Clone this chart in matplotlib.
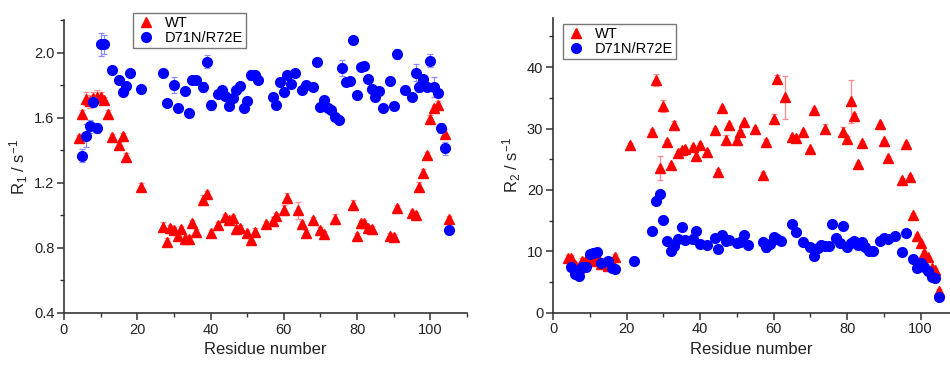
import numpy as np
import matplotlib
matplotlib.use("Agg")
import matplotlib.pyplot as plt
from matplotlib.ticker import MultipleLocator
from matplotlib.lines import Line2D

plt.rcParams['font.family'] = ['Liberation Sans', 'DejaVu Sans']
plt.rcParams['mathtext.fontset'] = 'custom'
plt.rcParams['mathtext.rm'] = 'Liberation Sans'
plt.rcParams['mathtext.it'] = 'Liberation Sans'
plt.rcParams['mathtext.default'] = 'regular'

# ---------------- R1 data ----------------
wt_r1_res = [4, 5, 6, 7, 8, 9, 10, 11, 12, 13, 15, 16, 17, 21, 27, 28, 29, 30, 31, 32, 33, 34, 35, 36,
             38, 39, 40, 42, 44, 45, 46, 47, 48, 50, 51, 52, 55, 57, 58, 60, 61, 64, 65, 66, 68, 70, 71,
             74, 79, 80, 81, 82, 83, 84, 89, 90, 91, 95, 96, 97, 98, 99, 100, 101, 102, 104, 105]
wt_r1_val = [1.475, 1.62, 1.715, 1.70, 1.72, 1.73, 1.725, 1.71, 1.62, 1.48, 1.43, 1.485, 1.36, 1.177,
             0.927, 0.839, 0.921, 0.907, 0.87, 0.917, 0.853, 0.857, 0.952, 0.895, 1.095, 1.129, 0.89,
             0.938, 0.987, 0.972, 0.982, 0.919, 0.92, 0.89, 0.849, 0.90, 0.947, 0.968, 0.993, 1.034,
             1.106, 1.03, 0.946, 0.89, 0.972, 0.91, 0.886, 0.977, 1.065, 0.874, 0.952, 0.952, 0.921,
             0.915, 0.874, 0.865, 1.044, 1.013, 1.003, 1.173, 1.263, 1.372, 1.594, 1.66, 1.68, 1.50, 0.977]
wt_r1_err = [0.02, 0.03, 0.04, 0.04, 0.04, 0.04, 0.03, 0.02, 0.03, 0.02, 0.02, 0.02, 0.02, 0.02,
             0.03, 0.02, 0.02, 0.02, 0.02, 0.02, 0.02, 0.02, 0.02, 0.02, 0.03, 0.02, 0.02,
             0.02, 0.02, 0.02, 0.02, 0.02, 0.02, 0.02, 0.02, 0.02, 0.02, 0.02, 0.02, 0.03,
             0.03, 0.05, 0.02, 0.02, 0.02, 0.02, 0.02, 0.03, 0.03, 0.02, 0.02, 0.02, 0.02,
             0.02, 0.02, 0.02, 0.02, 0.02, 0.02, 0.03, 0.02, 0.02, 0.02, 0.02, 0.02, 0.03, 0.02]

mut_r1_res = [5, 6, 7, 8, 9, 10, 11, 13, 15, 16, 17, 18, 21, 27, 28, 30, 31, 33, 34, 35, 36, 38, 39, 40,
              42, 43, 44, 45, 46, 47, 48, 49, 50, 51, 52, 53, 57, 58, 59, 60, 61, 62, 63, 65, 66, 68,
              69, 70, 71, 72, 73, 74, 75, 76, 77, 78, 79, 80, 81, 82, 83, 84, 85, 86, 87, 89, 90, 91,
              93, 95, 96, 97, 98, 99, 100, 101, 102, 103, 104, 105]
mut_r1_val = [1.366, 1.49, 1.547, 1.697, 1.537, 2.05, 2.05, 1.895, 1.83, 1.76, 1.795, 1.875, 1.776,
              1.877, 1.69, 1.80, 1.657, 1.766, 1.63, 1.83, 1.83, 1.79, 1.945, 1.678, 1.745, 1.77,
              1.735, 1.672, 1.723, 1.772, 1.795, 1.66, 1.703, 1.86, 1.865, 1.83, 1.725, 1.677, 1.817,
              1.758, 1.865, 1.807, 1.877, 1.772, 1.80, 1.789, 1.942, 1.668, 1.706, 1.66, 1.65, 1.604,
              1.583, 1.906, 1.817, 1.824, 2.077, 1.739, 1.91, 1.92, 1.837, 1.776, 1.73, 1.766, 1.657,
              1.824, 1.672, 1.99, 1.772, 1.727, 1.877, 1.79, 1.836, 1.79, 1.95, 1.79, 1.752, 1.537,
              1.413, 0.911]
mut_r1_err = [0.04, 0.07, 0.04, 0.03, 0.03, 0.07, 0.06, 0.01, 0.01, 0.01, 0.01, 0.01, 0.02,
              0.02, 0.01, 0.05, 0.01, 0.02, 0.01, 0.01, 0.02, 0.03, 0.04, 0.03, 0.01, 0.01,
              0.01, 0.01, 0.01, 0.02, 0.02, 0.01, 0.01, 0.03, 0.02, 0.02, 0.01, 0.01, 0.02,
              0.01, 0.01, 0.01, 0.01, 0.01, 0.02, 0.02, 0.02, 0.01, 0.01, 0.01, 0.01, 0.01,
              0.01, 0.05, 0.02, 0.02, 0.02, 0.01, 0.02, 0.02, 0.01, 0.01, 0.01, 0.01, 0.01,
              0.02, 0.02, 0.03, 0.02, 0.02, 0.05, 0.03, 0.02, 0.02, 0.04, 0.06, 0.02, 0.03,
              0.04, 0.01]

# ---------------- R2 data ----------------
wt_r2_res = [4, 5, 6, 7, 8, 9, 10, 11, 12, 13, 15, 16, 17, 21, 27, 28, 29, 30, 31, 32, 33, 34, 35, 36,
             38, 39, 40, 42, 44, 45, 46, 47, 48, 50, 51, 52, 55, 57, 58, 60, 61, 63, 65, 66, 68, 70,
             71, 74, 79, 80, 81, 82, 83, 84, 89, 90, 91, 95, 96, 97, 98, 99, 100, 101, 102, 103, 104, 105]
wt_r2_val = [8.9, 8.9, 7.8, 7.3, 8.4, 8.6, 8.7, 8.5, 9.2, 7.9, 7.6, 8.2, 9.0, 27.3, 29.5, 37.9, 23.6,
             33.7, 27.85, 24.05, 30.6, 25.96, 26.5, 26.7, 27.0, 25.5, 27.3, 26.2, 29.75, 22.9, 33.3,
             28.1, 30.6, 28.1, 29.4, 31.0, 29.9, 22.4, 27.85, 31.55, 38.1, 35.1, 28.6, 28.5, 29.4,
             26.6, 33.0, 30.0, 29.5, 28.3, 34.4, 32.1, 24.2, 27.6, 30.8, 27.9, 25.25, 21.6, 27.5,
             22.15, 15.9, 12.5, 11.3, 9.8, 9.0, 7.3, 6.95, 3.5]
wt_r2_err = [0.5, 0.5, 0.5, 0.5, 0.5, 0.5, 0.5, 0.5, 0.5, 0.5, 0.5, 0.5, 0.5, 0.3, 0.4, 1.0, 2.0,
             1.0, 0.3, 0.4, 0.6, 0.3, 0.3, 0.3, 0.3, 0.8, 0.3, 0.3, 0.3, 0.5, 0.4,
             0.8, 0.3, 0.3, 0.3, 0.3, 0.3, 0.5, 0.5, 0.8, 0.6, 3.5, 0.3, 0.3, 0.3,
             0.3, 0.3, 0.8, 0.8, 0.5, 3.5, 0.5, 0.4, 0.3, 0.3, 0.3, 0.3, 0.3, 0.3,
             0.3, 0.3, 0.3, 0.3, 0.3, 0.3, 0.3, 0.3, 0.3]

mut_r2_res = [5, 6, 7, 8, 9, 10, 11, 12, 13, 15, 16, 17, 22, 27, 28, 29, 30, 31, 32, 33, 34, 35, 36, 38,
              39, 40, 42, 44, 45, 46, 47, 48, 50, 51, 52, 53, 57, 58, 59, 60, 61, 62, 65, 66, 68, 70,
              71, 72, 73, 74, 75, 76, 77, 78, 79, 80, 81, 82, 83, 84, 85, 86, 87, 89, 90, 91, 93, 95,
              96, 98, 99, 100, 101, 102, 103, 104, 105]
mut_r2_val = [7.5, 6.3, 6.0, 7.5, 7.5, 9.5, 9.67, 9.93, 8.05, 8.47, 7.23, 7.1, 8.47, 13.35, 18.2, 19.3,
              15.1, 11.7, 10.05, 10.9, 11.95, 14.0, 11.8, 11.95, 13.3, 11.2, 11.0, 12.2, 10.4, 12.65,
              11.7, 11.8, 11.4, 11.5, 12.7, 11.0, 11.55, 10.75, 11.2, 12.3, 11.95, 11.7, 14.4, 13.2,
              11.55, 10.75, 9.3, 10.5, 11.0, 10.85, 10.85, 14.4, 12.2, 11.4, 14.2, 10.65, 11.3, 11.7,
              11.0, 11.45, 10.65, 10.05, 10.05, 11.7, 12.2, 11.95, 12.55, 9.94, 12.9, 8.8, 7.2, 8.05,
              7.4, 6.8, 5.76, 5.6, 2.5]
mut_r2_err = [0.4, 0.4, 0.3, 0.3, 0.3, 0.4, 0.3, 0.3, 0.3, 0.3, 0.3, 0.3, 0.3, 0.3, 0.3, 0.3,
              0.3, 0.3, 0.3, 0.3, 0.3, 0.3, 0.3, 0.8, 0.3, 0.3, 0.3, 0.3, 0.3, 0.3,
              0.3, 0.3, 0.3, 0.3, 0.3, 0.3, 0.3, 0.8, 0.3, 0.3, 0.3, 0.3, 0.3, 0.3,
              0.3, 0.3, 0.3, 0.3, 0.3, 0.3, 0.3, 0.3, 0.3, 0.3, 0.3, 0.3, 0.3, 0.3,
              0.3, 0.3, 0.3, 0.3, 0.3, 0.3, 0.3, 0.3, 0.3, 0.3, 0.3, 0.3, 0.3, 0.3,
              0.3, 0.3, 0.3, 0.3, 0.3]

series_labels = ['WT', 'D71N/R72E']

RED = '#ff0000'
BLUE = '#0000ff'
RED_ERR = '#ff8c8c'
BLUE_ERR = '#8c8cff'
AXC = '#333333'

fig = plt.figure(figsize=(9.5, 3.65), dpi=100)
ax1 = fig.add_axes([64/950, 1-313/365, (467-64)/950, (313-20)/365])
ax2 = fig.add_axes([553/950, 1-312.7/365, (950-553)/950, (312.7-18)/365])


def draw(ax, wr, wv, we, mr, mv, me):
    ax.errorbar(wr, wv, yerr=we, fmt='^', color=RED, ms=7.5, mec=RED, ecolor=RED_ERR,
                elinewidth=0.9, capsize=2.5, capthick=0.9, zorder=3)
    ax.errorbar(mr, mv, yerr=me, fmt='o', color=BLUE, ms=7, mec=BLUE, ecolor=BLUE_ERR,
                elinewidth=0.9, capsize=2.5, capthick=0.9, zorder=4)
    for s in ['top', 'right']:
        ax.spines[s].set_visible(False)
    for s in ['left', 'bottom']:
        ax.spines[s].set_color(AXC)
        ax.spines[s].set_linewidth(1.2)
    ax.tick_params(which='major', direction='out', length=5, width=1.1, color=AXC,
                   labelsize=10.5, labelcolor='#222222', pad=2)
    ax.tick_params(which='minor', direction='out', length=3, width=1.0, color=AXC)
    ax.set_xlabel('Residue number', fontsize=12, color='#222222', labelpad=4)


draw(ax1, wt_r1_res, wt_r1_val, wt_r1_err, mut_r1_res, mut_r1_val, mut_r1_err)
ax1.set_xlim(0, 110)
ax1.set_ylim(0.4, 2.2)
ax1.xaxis.set_major_locator(MultipleLocator(20))
ax1.xaxis.set_minor_locator(MultipleLocator(10))
ax1.yaxis.set_major_locator(MultipleLocator(0.4))
ax1.yaxis.set_minor_locator(MultipleLocator(0.2))
ax1.set_yticks([0.4, 0.8, 1.2, 1.6, 2.0])
ax1.set_yticklabels(['0.4', '0.8', '1.2', '1.6', '2.0'])
ax1.set_ylabel(r'R$_1$ / s$^{-1}$', fontsize=12, color='#222222', labelpad=3)

draw(ax2, wt_r2_res, wt_r2_val, wt_r2_err, mut_r2_res, mut_r2_val, mut_r2_err)
ax2.set_xlim(0, 108)
ax2.set_ylim(0, 48)
ax2.xaxis.set_major_locator(MultipleLocator(20))
ax2.xaxis.set_minor_locator(MultipleLocator(10))
ax2.yaxis.set_major_locator(MultipleLocator(10))
ax2.yaxis.set_minor_locator(MultipleLocator(5))
ax2.set_ylabel(r'R$_2$ / s$^{-1}$', fontsize=12, color='#222222', labelpad=3)

handles = [Line2D([], [], ls='none', marker='^', ms=7.5, color=RED),
           Line2D([], [], ls='none', marker='o', ms=7, color=BLUE)]
for ax, anchor in [(ax1, (133/950, 1-13/365)), (ax2, (563/950, 1-24/365))]:
    leg = ax.legend(handles, series_labels, loc='upper left', bbox_to_anchor=anchor,
                    bbox_transform=fig.transFigure,
                    fontsize=10.5, frameon=True, fancybox=False, borderpad=0.2,
                    labelspacing=0.1, handletextpad=0.6, handlelength=1.4, borderaxespad=0)
    leg.get_frame().set_edgecolor('#555555')
    leg.get_frame().set_linewidth(1.0)

fig.savefig('out.png', dpi=100)
